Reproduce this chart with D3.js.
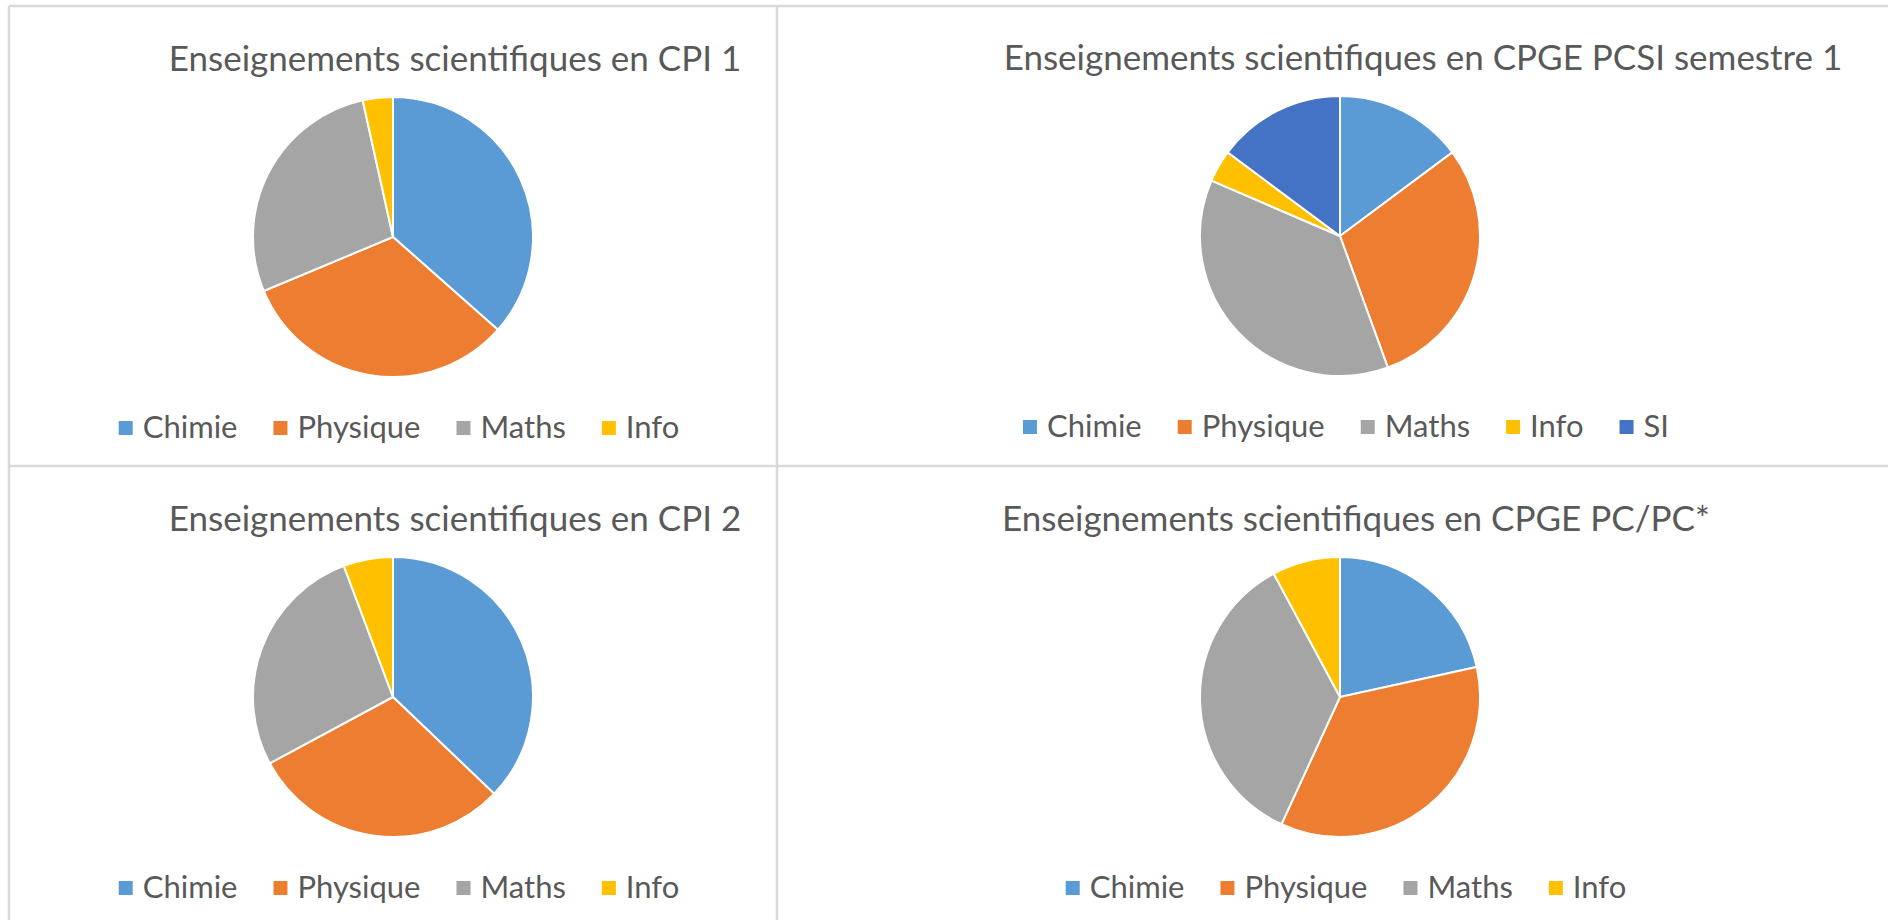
<!DOCTYPE html>
<meta charset="utf-8">
<style>
body { margin: 0; background: #fff; }
text { font-family: Lato, "Open Sans", sans-serif; fill: #595959; }
.slices path { stroke: #fff; stroke-width: 2px; }
.grid line { stroke: #d9d9d9; stroke-width: 2.5px; }
</style>
<svg width="1888" height="920"></svg>
<script src="https://d3js.org/d3.v7.min.js"></script>
<script>
// data (hours per week, roughly)
var categories = ["Chimie", "Physique", "Maths", "Info", "SI"];
var colors = ["#5B9BD5", "#ED7D31", "#A5A5A5", "#FFC000", "#4472C4"];

var titles = [
  "Enseignements scientifiques en CPI 1",
  "Enseignements scientifiques en CPGE PCSI semestre 1",
  "Enseignements scientifiques en CPI 2",
  "Enseignements scientifiques en CPGE PC/PC*"
];
var cpi1 = [10.5, 9.25, 8, 1];
var pcsi = [4, 8, 10, 1, 4];
var cpi2 = [13, 10.5, 9.5, 2];
var pcpc = [5.5, 9, 9, 2];

var svg = d3.select("svg"),
    width = +svg.attr("width"),
    height = +svg.attr("height");

// panel layout
var panels = [
  {title: titles[0], values: cpi1, cx: 393, cy: 237, tx: 455},
  {title: titles[1], values: pcsi, cx: 1340, cy: 236, tx: 1423},
  {title: titles[2], values: cpi2, cx: 393, cy: 697, tx: 455},
  {title: titles[3], values: pcpc, cx: 1340, cy: 697, tx: 1356}
];

var radius = 140;
var color = d3.scaleOrdinal().domain(categories).range(colors);
var pie = d3.pie().sort(null).value(function(d) { return d.value; });
var arc = d3.arc().innerRadius(0).outerRadius(radius);

// table borders
var grid = svg.append("g").attr("class", "grid");
grid.append("line").attr("x1", 9).attr("y1", 6).attr("x2", width).attr("y2", 6);
grid.append("line").attr("x1", 9).attr("y1", 6).attr("x2", 9).attr("y2", height);
grid.append("line").attr("x1", 777).attr("y1", 6).attr("x2", 777).attr("y2", height);
grid.append("line").attr("x1", 9).attr("y1", 466).attr("x2", width).attr("y2", 466);

panels.forEach(function(p) {
  var data = p.values.map(function(v, i) { return {name: categories[i], value: v}; });

  var g = svg.append("g");

  g.append("text")
      .attr("x", p.tx)
      .attr("y", p.cy - 166)
      .attr("text-anchor", "middle")
      .style("font-size", "35px")
      .text(p.title);

  g.append("g")
      .attr("class", "slices")
      .attr("transform", "translate(" + p.cx + "," + p.cy + ")")
    .selectAll("path")
    .data(pie(data))
    .enter().append("path")
      .attr("d", arc)
      .attr("fill", function(d) { return color(d.data.name); });

  // legend: lay items out from text widths, then centre the row
  var legend = g.append("g");
  var items = legend.selectAll("g")
    .data(data)
    .enter().append("g");

  items.append("rect")
      .attr("y", -7)
      .attr("width", 14)
      .attr("height", 14)
      .attr("fill", function(d) { return color(d.name); });

  items.append("text")
      .attr("x", 24)
      .attr("y", 10)
      .style("font-size", "31px")
      .text(function(d) { return d.name; });

  var x = 0;
  items.each(function() {
    var w = d3.select(this).select("text").node().getComputedTextLength();
    d3.select(this).attr("transform", "translate(" + x + ",0)");
    x += 24 + w + 36;
  });
  var total = x - 36;
  legend.attr("transform", "translate(" + (p.cx + 6 - total / 2) + "," + (p.cy + 191) + ")");
});
</script>
